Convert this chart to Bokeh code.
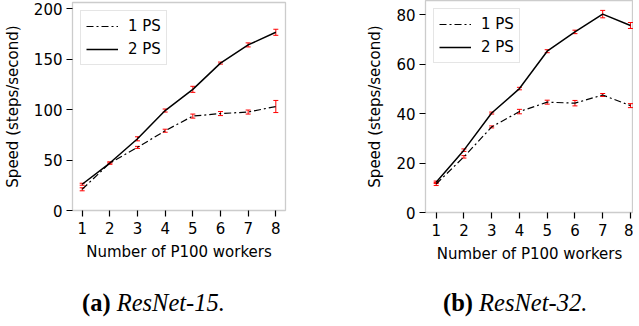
from bokeh.plotting import figure
from bokeh.models import (ColumnDataSource, Whisker, TeeHead, Legend, LegendItem,
                          Range1d, FixedTicker, Div)
from bokeh.layouts import row, column
from bokeh.embed import file_html
from bokeh.resources import INLINE

# ---------------- data ----------------
workers = [1, 2, 3, 4, 5, 6, 7, 8]
x_ticks = [1, 2, 3, 4, 5, 6, 7, 8]

r15_1ps = [21, 47, 62.5, 79, 93.5, 96, 97.5, 103]
r15_1ps_err = [1.5, 1, 1, 1.5, 2, 2, 2, 6]
r15_2ps = [26, 47, 71, 99, 120, 146, 164, 176.5]
r15_2ps_err = [1, 1, 2, 1.5, 3, 1, 2, 3]
r15_yticks = [0, 50, 100, 150, 200]

r32_1ps = [11.5, 22.5, 34.6, 40.8, 44.6, 44.2, 47.5, 43.2]
r32_1ps_err = [0.6, 0.5, 0.4, 0.9, 0.8, 1.1, 0.6, 0.8]
r32_2ps = [12.2, 25.2, 40.2, 50.1, 65.2, 73.0, 80.2, 75.6]
r32_2ps_err = [0.5, 0.5, 0.4, 0.5, 0.6, 0.7, 1.5, 1.2]
r32_yticks = [0, 20, 40, 60, 80]

series_labels = ["1 PS", "2 PS"]
captions = [("(a)", "ResNet-15."), ("(b)", "ResNet-32.")]

FONT = "DejaVu Sans"


def panel(y1, e1, y2, e2, yticks, ymax, xr, width, height, mb_left, mb_right,
          mb_top, mb_bottom, outline):
    p = figure(width=width, height=height, output_backend="svg",
               toolbar_location=None, x_range=Range1d(*xr),
               y_range=Range1d(0, ymax),
               min_border_left=mb_left, min_border_right=mb_right,
               min_border_top=mb_top, min_border_bottom=mb_bottom)
    p.grid.visible = False
    p.outline_line_color = outline
    p.outline_line_width = 1.3
    p.background_fill_color = "white"
    p.border_fill_color = "white"

    for ax in (p.xaxis[0], p.yaxis[0]):
        ax.axis_line_color = None
        ax.major_tick_line_color = "black"
        ax.major_tick_line_width = 1.2
        ax.major_tick_out = 6
        ax.major_tick_in = 0
        ax.minor_tick_line_color = None
        ax.major_label_text_font = FONT
        ax.major_label_text_font_size = "15px"
        ax.major_label_text_color = "black"
        ax.axis_label_text_font = FONT
        ax.axis_label_text_font_size = "15px"
        ax.axis_label_text_font_style = "normal"
        ax.axis_label_text_color = "black"
    p.xaxis.ticker = FixedTicker(ticks=x_ticks)
    p.yaxis.ticker = FixedTicker(ticks=yticks)
    p.xaxis.major_label_standoff = 5
    p.yaxis.major_label_standoff = 4
    p.xaxis.axis_label = "Number of P100 workers"
    p.yaxis.axis_label = "Speed (steps/second)"
    p.xaxis.axis_label_standoff = 6
    p.yaxis.axis_label_standoff = 9

    l1 = p.line(workers, y1, line_color="black", line_width=1.2,
                line_dash="7 3 2 3")
    l2 = p.line(workers, y2, line_color="black", line_width=1.5)

    for ys, es in ((y1, e1), (y2, e2)):
        src = ColumnDataSource(dict(
            x=workers,
            lo=[v - e for v, e in zip(ys, es)],
            hi=[v + e for v, e in zip(ys, es)]))
        w = Whisker(base="x", lower="lo", upper="hi", source=src,
                    line_color="red", line_width=1,
                    upper_head=TeeHead(size=5, line_color="red", line_width=1),
                    lower_head=TeeHead(size=5, line_color="red", line_width=1))
        p.add_layout(w)

    leg = Legend(items=[LegendItem(label=series_labels[0], renderers=[l1]),
                        LegendItem(label=series_labels[1], renderers=[l2])],
                 location="top_left")
    leg.label_text_font = FONT
    leg.label_text_font_size = "15px"
    leg.label_text_color = "black"
    leg.border_line_color = "#cccccc"
    leg.border_line_width = 1
    leg.background_fill_color = "white"
    leg.background_fill_alpha = 0.85
    leg.glyph_width = 32
    leg.glyph_height = 20
    leg.label_standoff = 10
    leg.padding = 5
    leg.spacing = 3
    leg.margin = 8
    p.add_layout(leg, "center")
    return p


def caption_div(tag, name, width, left):
    html = ('<div style="margin-left:%dpx;padding-top:15px;line-height:26px;'
            'font-family:\'Liberation Serif\',serif;font-size:24.5px;color:black;'
            'white-space:nowrap;"><b>%s</b> <i>%s</i></div>') % (left, tag, name)
    return Div(text=html, width=width, height=40)


p1 = panel(r15_1ps, r15_1ps_err, r15_2ps, r15_2ps_err, r15_yticks, 206,
           (0.65, 8.35), 320, 270, 71, 35, 2, 60, "#cccccc")
p2 = panel(r32_1ps, r32_1ps_err, r32_2ps, r32_2ps_err, r32_yticks, 85.7,
           (0.615, 8.11), 303, 270, 95, 0, 0, 58, "#cccccc")

d1 = caption_div(captions[0][0], captions[0][1], 320, 77)
d2 = caption_div(captions[1][0], captions[1][1], 303, 108)

layout = row(column(p1, d1, spacing=0), column(p2, d2, spacing=0), spacing=0)

open("out.html", "w").write(file_html(layout, INLINE))
